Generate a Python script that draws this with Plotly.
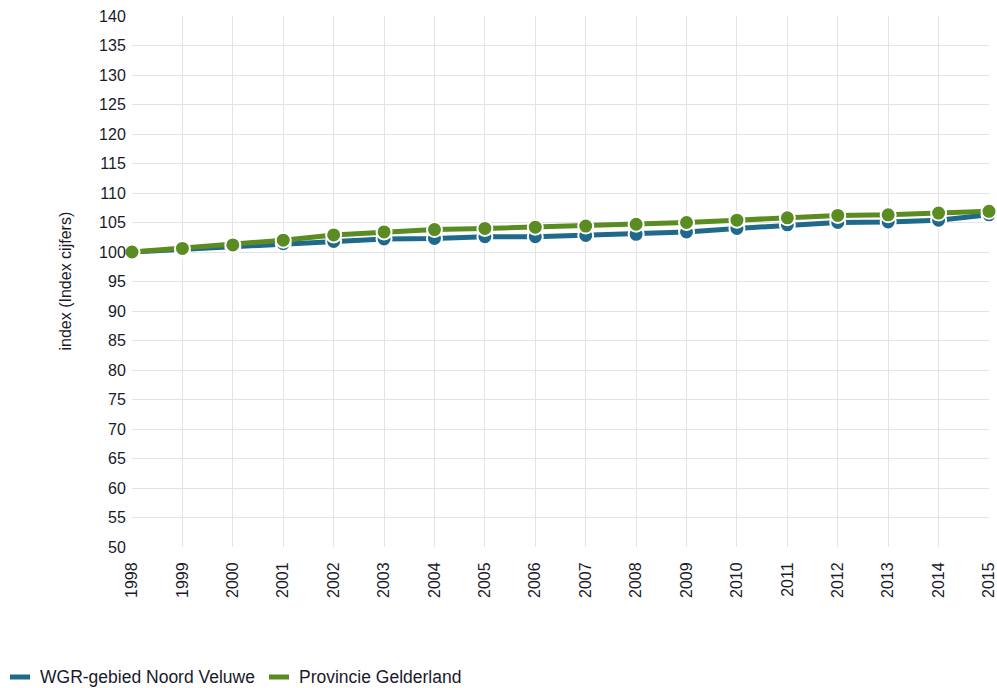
import plotly.graph_objects as go

years = list(range(1998, 2016))
noord_veluwe = [100.0, 100.4, 100.9, 101.4, 101.8, 102.2, 102.3, 102.6, 102.6, 102.8,
                103.0, 103.4, 104.0, 104.6, 105.0, 105.1, 105.4, 106.3]
gelderland = [100.0, 100.6, 101.2, 102.0, 102.9, 103.4, 103.8, 104.0, 104.2, 104.4,
              104.7, 105.0, 105.4, 105.8, 106.2, 106.3, 106.6, 106.9]
series_names = ["WGR-gebied Noord Veluwe", "Provincie Gelderland"]
colors = ["#1f6a8a", "#5a8c22"]
y_ticks = list(range(50, 141, 5))
y_title = "index (Index cijfers)"

W, H = 997, 688
L, R, T, B = 132, 8, 16, 141
pw, ph = W - L - R, H - T - B


def px_x(p):
    return (p - L) / pw


def px_y(p):
    return (H - B - p) / ph


fig = go.Figure()
for name, vals, col in zip(series_names, [noord_veluwe, gelderland], colors):
    fig.add_trace(go.Scatter(x=years, y=vals, mode="lines", name=name, showlegend=False,
                             line=dict(color=col, width=5), cliponaxis=False))
    fig.add_trace(go.Scatter(x=years, y=vals, mode="markers", name=name, showlegend=False,
                             marker=dict(color=col, size=15, line=dict(color="white", width=2)),
                             cliponaxis=False))

# manual legend (symbol + text) placed in the bottom-left corner
legend_sym_x = [(10, 30), (269, 289)]
legend_text_x = [38, 297]
legend_y = px_y(677)
shapes = []
annotations = []
for (x0, x1), tx, name, col in zip(legend_sym_x, legend_text_x, series_names, colors):
    shapes.append(dict(type="line", xref="paper", yref="paper", x0=px_x(x0), x1=px_x(x1),
                       y0=legend_y, y1=legend_y, line=dict(color=col, width=5)))
    annotations.append(dict(text=name, xref="paper", yref="paper", x=px_x(tx), y=legend_y,
                            showarrow=False, xanchor="left", yanchor="middle",
                            font=dict(size=17.5, color="#1a1a2a")))
annotations.append(dict(text=y_title, xref="paper", yref="paper", x=px_x(65), y=0.5,
                        textangle=-90, showarrow=False, xanchor="center", yanchor="middle",
                        font=dict(size=16, color="#1a1a2a")))

fig.update_layout(
    width=W, height=H,
    margin=dict(l=L, r=R, t=T, b=B, autoexpand=False),
    paper_bgcolor="white", plot_bgcolor="white",
    font=dict(family="Liberation Sans, Arial, sans-serif", size=16, color="#1a1a2a"),
    showlegend=False,
    shapes=shapes,
    annotations=annotations,
)
fig.update_xaxes(range=[1998, 2015], tickvals=years, ticktext=[str(y) for y in years],
                 tickangle=-90, showgrid=True, gridcolor="#e3e3e3", gridwidth=1,
                 zeroline=False, showline=False, ticks="outside", ticklen=8,
                 tickcolor="rgba(0,0,0,0)", automargin=False, ticklabeloverflow="allow")
fig.update_yaxes(range=[50, 140], tickvals=y_ticks, showgrid=True, gridcolor="#e3e3e3",
                 gridwidth=1, zeroline=False, showline=False, ticks="outside", ticklen=2,
                 tickcolor="rgba(0,0,0,0)", automargin=False, ticklabeloverflow="allow")

fig.write_html("out.html", config={"displayModeBar": False},
               post_script="document.body.style.margin='0';document.body.style.overflow='hidden';")
